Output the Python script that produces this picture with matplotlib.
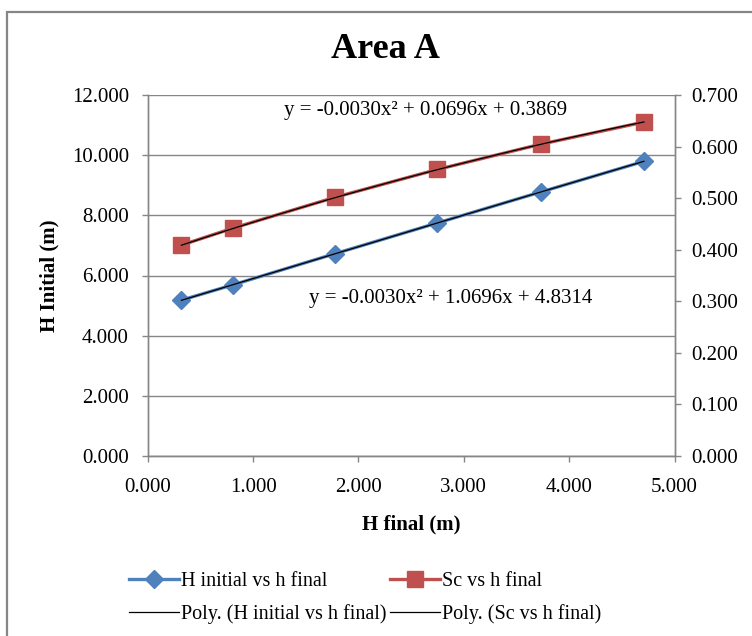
import numpy as np
import matplotlib
matplotlib.use("Agg")
import matplotlib.pyplot as plt
from matplotlib.lines import Line2D
from matplotlib.patches import Rectangle
from matplotlib.ticker import FormatStrFormatter, MultipleLocator

plt.rcParams['font.family'] = ['Liberation Serif', 'DejaVu Serif']

# Measured data
h_final = [0.32, 0.81, 1.78, 2.75, 3.73, 4.71]
h_initial = [5.18, 5.69, 6.73, 7.75, 8.78, 9.80]
sc = [0.409, 0.442, 0.502, 0.556, 0.605, 0.648]

# Quadratic trendline coefficients (a, b, c for a*x^2 + b*x + c)
poly_h = [-0.0030, 1.0696, 4.8314]
poly_sc = [-0.0030, 0.0696, 0.3869]

series_labels = ["H initial vs h final", "Sc vs h final"]
trend_labels = ["Poly. (H initial vs h final)", "Poly. (Sc vs h final)"]

BLUE = "#4F81BD"
RED = "#C0504D"
GRID = "#868686"
FS = 15

W, H = 752, 636
fig = plt.figure(figsize=(W / 100, H / 100), dpi=100)

# outer chart frame
fig.patches.append(Rectangle((6.5 / W, -0.1), 2.0, 1.1 - 11.5 / H,
                             transform=fig.transFigure, fill=False,
                             edgecolor=GRID, linewidth=1.6, clip_on=False))

left, right, bottom, top = 147.7, 674.5, 455.7, 95.3
ax = fig.add_axes([left / W, 1 - bottom / H, (right - left) / W, (bottom - top) / H])
ax2 = ax.twinx()

ax.set_xlim(0, 5)
ax.set_ylim(0, 12)
ax2.set_ylim(0, 0.7)
ax.xaxis.set_major_locator(MultipleLocator(1))
ax.yaxis.set_major_locator(MultipleLocator(2))
ax2.yaxis.set_major_locator(MultipleLocator(0.1))
ax.xaxis.set_major_formatter(FormatStrFormatter("%.3f"))
ax.yaxis.set_major_formatter(FormatStrFormatter("%.3f"))
ax2.yaxis.set_major_formatter(FormatStrFormatter("%.3f"))

ax.grid(axis="y", color=GRID, linewidth=1.0)
ax.set_axisbelow(True)
for a in (ax, ax2):
    for s in a.spines.values():
        s.set_color(GRID)
        s.set_linewidth(1.0)
    a.spines["top"].set_visible(False)
    a.tick_params(direction="out", length=4, width=1.0, color=GRID,
                  labelsize=FS, labelcolor="black")
ax.tick_params(axis="y", pad=9.5)
ax2.tick_params(axis="y", pad=8)
ax.tick_params(axis="x", pad=12)

# data series
ax.plot(h_final, h_initial, color=BLUE, lw=2.4, marker="D", ms=9.5,
        mfc=BLUE, mec=BLUE, zorder=3)
ax2.plot(h_final, sc, color=RED, lw=2.4, marker="s", ms=11.5,
         mfc=RED, mec=RED, zorder=3)

# trendlines
xt = np.linspace(min(h_final), max(h_final), 200)
ax.plot(xt, np.polyval(poly_h, xt), color="black", lw=0.9, zorder=4)
ax2.plot(xt, np.polyval(poly_sc, xt), color="black", lw=0.9, zorder=4)


def eq_text(c):
    return "y = {:.4f}x\u00b2 + {:.4f}x + {:.4f}".format(*c)


ax.text(2.64, 11.5, eq_text(poly_sc), fontsize=FS, ha="center", va="center")
ax.text(2.88, 5.25, eq_text(poly_h), fontsize=FS, ha="center", va="center")

ax.set_ylabel("H Initial (m)", fontsize=FS, fontweight="bold", labelpad=9)
ax.set_xlabel("H final (m)", fontsize=FS, fontweight="bold", labelpad=13)

fig.text(385 / W, 1 - 49 / H, "Area A", fontsize=26, fontweight="bold",
         ha="center", va="center")

handles = [
    Line2D([], [], color=BLUE, lw=2.4, marker="D", ms=9.5, mfc=BLUE, mec=BLUE),
    Line2D([], [], color="black", lw=0.9),
    Line2D([], [], color=RED, lw=2.4, marker="s", ms=11.5, mfc=RED, mec=RED),
    Line2D([], [], color="black", lw=0.9),
]
labels = [series_labels[0], trend_labels[0], series_labels[1], trend_labels[1]]
fig.legend(handles, labels, ncol=2, frameon=False, fontsize=14.5,
           loc="center left", bbox_to_anchor=(121 / W, 1 - 598 / H),
           handlelength=2.5, handletextpad=0.1, columnspacing=0.15,
           labelspacing=0.65, borderaxespad=0)

fig.savefig("out.png", dpi=100)
